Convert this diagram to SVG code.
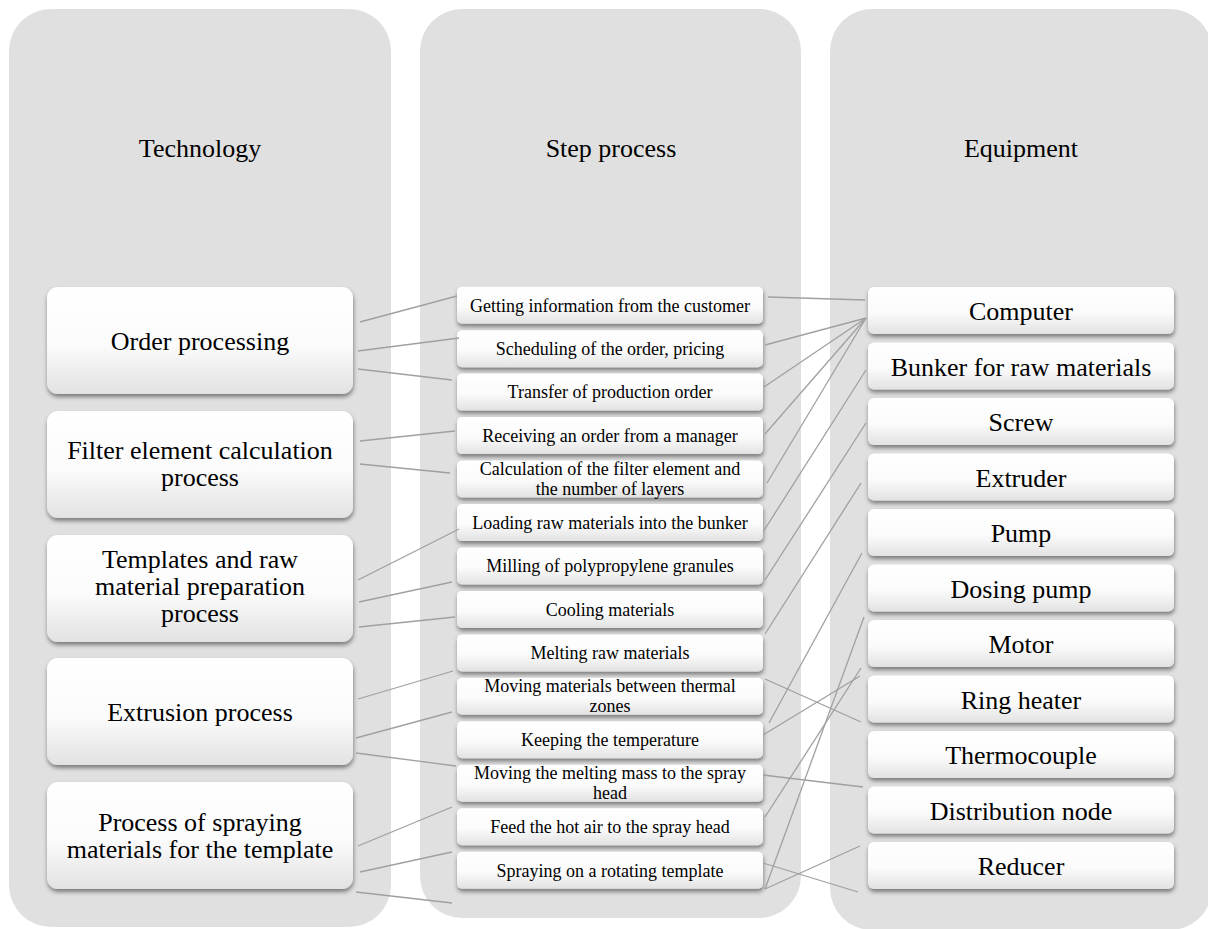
<svg xmlns="http://www.w3.org/2000/svg" width="1208" height="929" viewBox="0 0 1208 929">
  <defs>
    <linearGradient id="boxFill" x1="0" y1="0" x2="0" y2="1">
      <stop offset="0" stop-color="#ffffff"/>
      <stop offset="0.55" stop-color="#fbfbfb"/>
      <stop offset="1" stop-color="#e2e2e2"/>
    </linearGradient>
    <filter id="shadow" x="-10%" y="-20%" width="120%" height="150%">
      <feDropShadow dx="0.5" dy="3" stdDeviation="2" flood-color="#000" flood-opacity="0.45"/>
    </filter>
  </defs>
  <style>
    .panel { fill: #e0e0e0; }
    .box { fill: url(#boxFill); filter: url(#shadow); }
    .title { font-family: "Liberation Serif", "Times New Roman", serif; font-size: 26px; fill: #000; text-anchor: middle; }
    .big { font-family: "Liberation Serif", "Times New Roman", serif; font-size: 26px; fill: #000; text-anchor: middle; }
    .small { font-family: "Liberation Serif", "Times New Roman", serif; font-size: 18px; fill: #000; text-anchor: middle; }
    .link { stroke: #a0a0a0; stroke-width: 1.3; fill: none; }
  </style>

  <!-- column panels -->
  <g id="col-technology">
    <rect class="panel" x="9" y="9" width="382" height="918" rx="42"/>
    <text class="title" x="200" y="157">Technology</text>
  </g>
  <g id="col-steps">
    <rect class="panel" x="420" y="9" width="381" height="909" rx="42"/>
    <text class="title" x="611" y="157">Step process</text>
  </g>
  <g id="col-equipment">
    <rect class="panel" x="830" y="9" width="382" height="921" rx="42"/>
    <text class="title" x="1021" y="157">Equipment</text>
  </g>

  <!-- technology stages -->
  <g id="tech-order">
    <rect class="box" x="47" y="287" width="306" height="107" rx="11"/>
    <text class="big" x="200" y="350">Order processing</text>
  </g>
  <g id="tech-filter">
    <rect class="box" x="47" y="411" width="306" height="107" rx="11"/>
    <text class="big" x="200" y="459">Filter element calculation<tspan x="200" dy="27">process</tspan></text>
  </g>
  <g id="tech-templates">
    <rect class="box" x="47" y="535" width="306" height="107" rx="11"/>
    <text class="big" x="200" y="568">Templates and raw<tspan x="200" dy="27">material preparation</tspan><tspan x="200" dy="27">process</tspan></text>
  </g>
  <g id="tech-extrusion">
    <rect class="box" x="47" y="658" width="306" height="107" rx="11"/>
    <text class="big" x="200" y="721">Extrusion process</text>
  </g>
  <g id="tech-spraying">
    <rect class="box" x="47" y="782" width="306" height="107" rx="11"/>
    <text class="big" x="200" y="831">Process of spraying<tspan x="200" dy="27">materials for the template</tspan></text>
  </g>

  <!-- process steps -->
  <g id="step-01">
    <rect class="box" x="457" y="286.7" width="306" height="37" rx="5"/>
    <text class="small" x="610" y="311.5">Getting information from the customer</text>
  </g>
  <g id="step-02">
    <rect class="box" x="457" y="330.2" width="306" height="37" rx="5"/>
    <text class="small" x="610" y="355">Scheduling of the order, pricing</text>
  </g>
  <g id="step-03">
    <rect class="box" x="457" y="373.6" width="306" height="37" rx="5"/>
    <text class="small" x="610" y="398.4">Transfer of production order</text>
  </g>
  <g id="step-04">
    <rect class="box" x="457" y="417.1" width="306" height="37" rx="5"/>
    <text class="small" x="610" y="441.9">Receiving an order from a manager</text>
  </g>
  <g id="step-05">
    <rect class="box" x="457" y="460.5" width="306" height="37" rx="5"/>
    <text class="small" x="610" y="475">Calculation of the filter element and<tspan x="610" dy="20">the number of layers</tspan></text>
  </g>
  <g id="step-06">
    <rect class="box" x="457" y="504" width="306" height="37" rx="5"/>
    <text class="small" x="610" y="528.8">Loading raw materials into the bunker</text>
  </g>
  <g id="step-07">
    <rect class="box" x="457" y="547.5" width="306" height="37" rx="5"/>
    <text class="small" x="610" y="572.3">Milling of polypropylene granules</text>
  </g>
  <g id="step-08">
    <rect class="box" x="457" y="590.9" width="306" height="37" rx="5"/>
    <text class="small" x="610" y="615.7">Cooling materials</text>
  </g>
  <g id="step-09">
    <rect class="box" x="457" y="634.4" width="306" height="37" rx="5"/>
    <text class="small" x="610" y="659.2">Melting raw materials</text>
  </g>
  <g id="step-10">
    <rect class="box" x="457" y="677.8" width="306" height="37" rx="5"/>
    <text class="small" x="610" y="692.3">Moving materials between thermal<tspan x="610" dy="20">zones</tspan></text>
  </g>
  <g id="step-11">
    <rect class="box" x="457" y="721.3" width="306" height="37" rx="5"/>
    <text class="small" x="610" y="746.1">Keeping the temperature</text>
  </g>
  <g id="step-12">
    <rect class="box" x="457" y="764.8" width="306" height="37" rx="5"/>
    <text class="small" x="610" y="779.3">Moving the melting mass to the spray<tspan x="610" dy="20">head</tspan></text>
  </g>
  <g id="step-13">
    <rect class="box" x="457" y="808.2" width="306" height="37" rx="5"/>
    <text class="small" x="610" y="833">Feed the hot air to the spray head</text>
  </g>
  <g id="step-14">
    <rect class="box" x="457" y="851.7" width="306" height="37" rx="5"/>
    <text class="small" x="610" y="876.5">Spraying on a rotating template</text>
  </g>

  <!-- equipment -->
  <g id="eq-computer">
    <rect class="box" x="868" y="287" width="306" height="47" rx="6"/>
    <text class="big" x="1021" y="320">Computer</text>
  </g>
  <g id="eq-bunker">
    <rect class="box" x="868" y="342.5" width="306" height="47" rx="6"/>
    <text class="big" x="1021" y="375.5">Bunker for raw materials</text>
  </g>
  <g id="eq-screw">
    <rect class="box" x="868" y="398" width="306" height="47" rx="6"/>
    <text class="big" x="1021" y="431">Screw</text>
  </g>
  <g id="eq-extruder">
    <rect class="box" x="868" y="453.5" width="306" height="47" rx="6"/>
    <text class="big" x="1021" y="486.5">Extruder</text>
  </g>
  <g id="eq-pump">
    <rect class="box" x="868" y="509" width="306" height="47" rx="6"/>
    <text class="big" x="1021" y="542">Pump</text>
  </g>
  <g id="eq-dosing-pump">
    <rect class="box" x="868" y="564.5" width="306" height="47" rx="6"/>
    <text class="big" x="1021" y="597.5">Dosing pump</text>
  </g>
  <g id="eq-motor">
    <rect class="box" x="868" y="620" width="306" height="47" rx="6"/>
    <text class="big" x="1021" y="653">Motor</text>
  </g>
  <g id="eq-ring-heater">
    <rect class="box" x="868" y="675.5" width="306" height="47" rx="6"/>
    <text class="big" x="1021" y="708.5">Ring heater</text>
  </g>
  <g id="eq-thermocouple">
    <rect class="box" x="868" y="731" width="306" height="47" rx="6"/>
    <text class="big" x="1021" y="764">Thermocouple</text>
  </g>
  <g id="eq-distribution">
    <rect class="box" x="868" y="786.5" width="306" height="47" rx="6"/>
    <text class="big" x="1021" y="819.5">Distribution node</text>
  </g>
  <g id="eq-reducer">
    <rect class="box" x="868" y="842" width="306" height="47" rx="6"/>
    <text class="big" x="1021" y="875">Reducer</text>
  </g>

  <!-- connectors -->
  <g id="connectors" class="link">
    <!-- technology to steps -->
    <line x1="360" y1="322" x2="457" y2="296"/>
    <line x1="358" y1="351" x2="459" y2="338"/>
    <line x1="358" y1="369" x2="452" y2="380"/>
    <line x1="360" y1="441" x2="455" y2="431"/>
    <line x1="360" y1="464" x2="450" y2="473"/>
    <line x1="358" y1="580" x2="459" y2="529"/>
    <line x1="359" y1="602" x2="452" y2="582"/>
    <line x1="359" y1="627" x2="455" y2="617"/>
    <line x1="358" y1="699" x2="453" y2="671"/>
    <line x1="356" y1="738" x2="452" y2="712"/>
    <line x1="356" y1="753" x2="456" y2="766"/>
    <line x1="358" y1="846" x2="452" y2="807"/>
    <line x1="360" y1="872" x2="452" y2="852"/>
    <line x1="356" y1="892" x2="452" y2="903"/>
    <!-- steps to equipment -->
    <line x1="768" y1="297" x2="865" y2="300"/>
    <line x1="765" y1="345" x2="866" y2="318"/>
    <line x1="764" y1="387" x2="866" y2="318"/>
    <line x1="765" y1="434" x2="866" y2="318"/>
    <line x1="767" y1="483" x2="866" y2="318"/>
    <line x1="763" y1="532" x2="866" y2="370"/>
    <line x1="765" y1="580" x2="866" y2="423"/>
    <line x1="765" y1="634" x2="861" y2="483"/>
    <line x1="765" y1="679" x2="861" y2="722"/>
    <line x1="769" y1="723" x2="862" y2="553"/>
    <line x1="763" y1="735" x2="860" y2="676"/>
    <line x1="763" y1="775" x2="863" y2="787"/>
    <line x1="765" y1="817" x2="861" y2="668"/>
    <line x1="763" y1="863" x2="858" y2="892"/>
    <line x1="765" y1="889" x2="860" y2="846"/>
    <line x1="765" y1="889" x2="864" y2="617"/>
  </g>
</svg>
